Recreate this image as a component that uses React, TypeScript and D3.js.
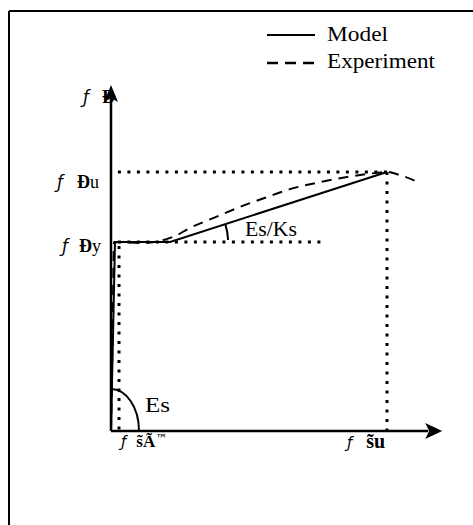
import React from "react";
import * as d3 from "d3";

// ---- data (normalised: strain / eps_su, stress / f_su) ----
const modelStrain = [0, 0.0145, 0.214, 1.0];
const modelStress = [0, 0.73, 0.73, 1.0];

const expStrain = [0, 0.006, 0.011, 0.105, 0.178, 0.232, 0.286, 0.37, 0.467, 0.565, 0.649, 0.757, 0.855, 0.928, 1.0, 1.047, 1.112];
const expStress = [0, 0.4, 0.73, 0.726, 0.734, 0.753, 0.784, 0.822, 0.865, 0.903, 0.934, 0.961, 0.981, 0.992, 1.0, 0.988, 0.961];

const fsy = 0.73;
const fsu = 1.0;
const epsY = 0.029;
const epsSu = 1.0;
const fsyLineEnd = 0.764;

const legendLabels = ["Model", "Experiment"];
const slopeLabels = ["Es", "Es/Ks"];
// garbled symbol-font labels as they appear in the reference
const axisLabels = [
  { f: "ƒ", a: "Ð", b: "", x: 83, y: 103, gap: 13, size: 18 },
  { f: "ƒ", a: "Ð", b: "u", x: 57, y: 188, gap: 14, size: 18 },
  { f: "ƒ", a: "Ð", b: "y", x: 62, y: 252, gap: 11, size: 18 },
  { f: "ƒ", a: "s̃Ã", b: "™", x: 121, y: 447, gap: 10, size: 17 },
  { f: "ƒ", a: "s̃u", b: "", x: 347, y: 448, gap: 14, size: 20 },
];

const W = 473;
const H = 525;

export default function App() {
  const x = d3.scaleLinear().domain([0, 1]).range([111, 387]);
  const y = d3.scaleLinear().domain([0, 1]).range([431, 172]);
  const line = d3.line<[number, number]>().x((d) => x(d[0])).y((d) => y(d[1]));
  const modelPts = modelStrain.map((s, i) => [s, modelStress[i]] as [number, number]);
  const expPts = expStrain.map((s, i) => [s, expStress[i]] as [number, number]);
  const expLine = d3
    .line<[number, number]>()
    .x((d) => x(d[0]))
    .y((d) => y(d[1]))
    .curve(d3.curveMonotoneX);

  const x0 = x(0);
  const y0 = y(0);
  const xAxisEnd = x(1.2);
  const yAxisEnd = y(1.336);

  const esArc = `M ${x0} ${y0 - 42} A 28 42 0 0 1 ${x0 + 28} ${y0}`;
  const cx = x(modelStrain[2]);
  const cy = y(modelStress[2]);
  const ang = Math.atan2(y(modelStress[2]) - y(modelStress[3]), x(modelStrain[3]) - x(modelStrain[2]));
  const r = 58;
  const ksArc = `M ${cx + r * Math.cos(ang)} ${cy - r * Math.sin(ang)} A ${r} ${r} 0 0 1 ${cx + r} ${cy - 2}`;

  const serif = "'Liberation Serif', 'Times New Roman', serif";
  const sans = "'DejaVu Sans', sans-serif";

  return (
    <svg width={W} height={H} style={{ position: "absolute", left: 0, top: 0, background: "#fff" }}>
      {/* frame */}
      <line x1={9} y1={11} x2={W} y2={11} stroke="#000" strokeWidth={2} />
      <line x1={9} y1={11} x2={9} y2={H} stroke="#000" strokeWidth={2} />

      {/* legend */}
      <line x1={267} y1={35} x2={315} y2={35} stroke="#000" strokeWidth={2} />
      <line x1={267} y1={63} x2={317} y2={63} stroke="#000" strokeWidth={2.5} strokeDasharray="11,7" />
      <text x={327} y={41} fontFamily={serif} fontSize={21} textLength={61} lengthAdjust="spacingAndGlyphs">
        {legendLabels[0]}
      </text>
      <text x={327} y={68} fontFamily={serif} fontSize={21} textLength={108} lengthAdjust="spacingAndGlyphs">
        {legendLabels[1]}
      </text>

      {/* dotted reference lines */}
      <g stroke="#000" strokeWidth={3} strokeDasharray="3,6.5" fill="none">
        <line x1={x(0.025)} y1={y(fsu)} x2={x(epsSu)} y2={y(fsu)} />
        <line x1={x(epsSu)} y1={y(fsu)} x2={x(epsSu)} y2={y0} />
        <line x1={x(0.025)} y1={y(fsy)} x2={x(fsyLineEnd)} y2={y(fsy)} />
        <line x1={x(epsY)} y1={y(fsy) + 4} x2={x(epsY)} y2={y0} />
      </g>

      {/* experiment */}
      <path d={expLine(expPts) || ""} fill="none" stroke="#000" strokeWidth={2} strokeDasharray="10,7" />

      {/* model */}
      <path d={line(modelPts) || ""} fill="none" stroke="#000" strokeWidth={2} />

      {/* axes */}
      <line x1={x0} y1={y0} x2={xAxisEnd - 14} y2={y0} stroke="#000" strokeWidth={2.5} />
      <path d={`M ${xAxisEnd} ${y0} L ${xAxisEnd - 17} ${y0 - 8} L ${xAxisEnd - 13} ${y0} L ${xAxisEnd - 17} ${y0 + 8} Z`} fill="#000" />
      <line x1={x0} y1={y0} x2={x0} y2={yAxisEnd + 12} stroke="#000" strokeWidth={2.5} />
      <path d={`M ${x0} ${yAxisEnd} L ${x0 - 7} ${yAxisEnd + 17} L ${x0} ${yAxisEnd + 13} L ${x0 + 7} ${yAxisEnd + 17} Z`} fill="#000" />

      {/* angle arcs */}
      <path d={esArc} fill="none" stroke="#000" strokeWidth={2} />
      <path d={ksArc} fill="none" stroke="#000" strokeWidth={2} />
      <text x={145} y={412} fontFamily={serif} fontSize={22} textLength={25} lengthAdjust="spacingAndGlyphs">
        {slopeLabels[0]}
      </text>
      <text x={245} y={236} fontFamily={serif} fontSize={20} textLength={52} lengthAdjust="spacingAndGlyphs">
        {slopeLabels[1]}
      </text>

      {/* symbol labels */}
      <g fill="#000">
        {axisLabels.map((l, i) => (
          <text key={i} x={l.x} y={l.y} fontFamily={serif} fontSize={l.size}>
            <tspan fontFamily={sans} fontStyle="italic" fontSize={i >= 3 ? 15 : 17}>
              {l.f}
            </tspan>
            <tspan dx={l.gap} fontWeight="bold">{l.a}</tspan>
            {l.b ? (
              <tspan fontSize={i === 3 ? 12 : l.size} dy={i === 3 ? -4 : 0} fontFamily={i === 3 ? sans : serif}>
                {l.b}
              </tspan>
            ) : null}
          </text>
        ))}
      </g>
    </svg>
  );
}
